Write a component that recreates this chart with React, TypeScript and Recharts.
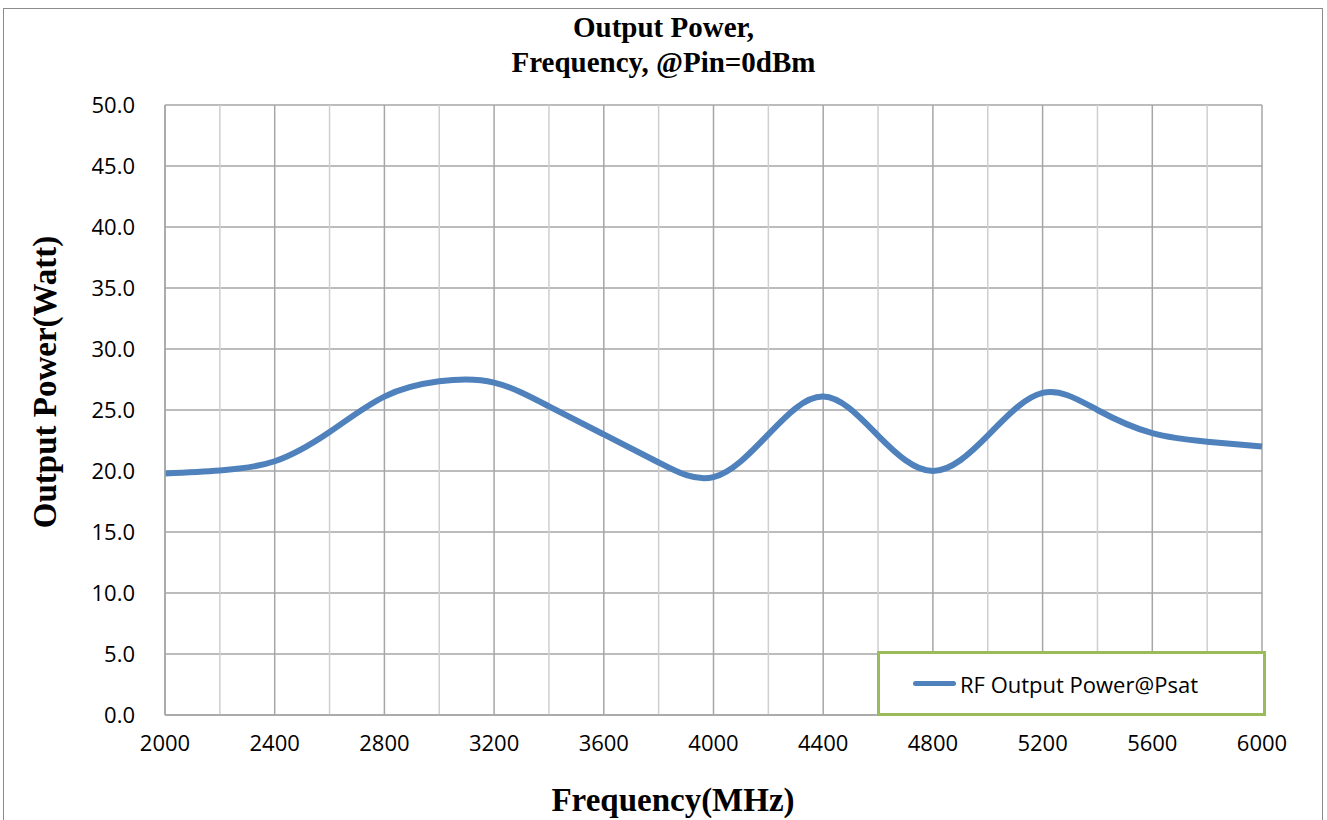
import React from 'react';
import { CartesianGrid, Line, LineChart, ReferenceLine, XAxis, YAxis } from 'recharts';

// frequency (MHz) and saturated output power (W), every 200 MHz
const freqs = [2000, 2200, 2400, 2600, 2800, 3000, 3200, 3400, 3600, 3800, 4000, 4200, 4400, 4600, 4800, 5000, 5200, 5400, 5600, 5800, 6000];
const powerW = [19.8, 20.05, 20.8, 23.2, 26.1, 27.35, 27.25, 25.3, 23.0, 20.7, 19.5, 23.0, 26.1, 22.9, 20.0, 22.9, 26.4, 25.0, 23.1, 22.4, 22.0];

const xTicks = [2000, 2400, 2800, 3200, 3600, 4000, 4400, 4800, 5200, 5600, 6000];
const xMinor = [2200, 2600, 3000, 3400, 3800, 4200, 4600, 5000, 5400, 5800];
const yTicks = [0, 5, 10, 15, 20, 25, 30, 35, 40, 45, 50];

const SERIES_NAME = 'RF Output Power@Psat';
const LINE_COLOR = '#4F81BD';

const data = freqs.map((f, i) => ({ freq: f, power: powerW[i] }));

const serif = '"Liberation Serif", "Times New Roman", serif';
const sans = '"Open Sans", "Noto Sans", sans-serif';

export default function App() {
    return (
        <div style={{ position: 'absolute', left: 0, top: 0, width: 1327, height: 820, background: '#fff', overflow: 'hidden' }}>
            <div
                style={{
                    position: 'absolute',
                    left: 3,
                    top: 8,
                    width: 1318,
                    height: 830,
                    border: '1px solid #8c8c8c',
                }}
            />
            <div
                style={{
                    position: 'absolute',
                    left: 0,
                    width: 1327,
                    top: 10,
                    textAlign: 'center',
                    fontFamily: serif,
                    fontWeight: 'bold',
                    fontSize: 29,
                    lineHeight: '35px',
                    color: '#000',
                }}
            >
                <div>Output Power,</div>
                <div>Frequency, @Pin=0dBm</div>
            </div>
            <LineChart
                width={1327}
                height={820}
                data={data}
                margin={{ top: 105, right: 65, bottom: 65, left: 105 }}
                style={{ position: 'absolute', left: 0, top: 0 }}
            >
                <CartesianGrid stroke="#a6a6a6" strokeWidth={1.5} horizontalValues={yTicks} verticalValues={xTicks} />
                {xMinor.map((v) => (
                    <ReferenceLine key={v} x={v} stroke="#cfcfcf" strokeWidth={1.5} />
                ))}
                <XAxis
                    dataKey="freq"
                    type="number"
                    domain={[2000, 6000]}
                    ticks={xTicks}
                    height={40}
                    axisLine={{ stroke: '#a6a6a6', strokeWidth: 1.5 }}
                    tickLine={false}
                    tickMargin={14}
                    tick={{ fontFamily: sans, fontSize: 22, fill: '#000' }}
                />
                <YAxis
                    type="number"
                    domain={[0, 50]}
                    ticks={yTicks}
                    width={60}
                    axisLine={{ stroke: '#a6a6a6', strokeWidth: 1.5 }}
                    tickLine={false}
                    tickMargin={24}
                    tickFormatter={(v: number) => v.toFixed(1)}
                    tick={{ fontFamily: sans, fontSize: 22, fill: '#000' }}
                />
                <Line
                    type="natural"
                    dataKey="power"
                    name={SERIES_NAME}
                    stroke={LINE_COLOR}
                    strokeWidth={6}
                    dot={false}
                    isAnimationActive={false}
                />
            </LineChart>
            {/* axis titles sit off-centre in the original, so place them by hand */}
            <div
                style={{
                    position: 'absolute',
                    left: 373,
                    width: 600,
                    top: 780,
                    textAlign: 'center',
                    fontFamily: serif,
                    fontWeight: 'bold',
                    fontSize: 33,
                    lineHeight: '40px',
                    color: '#000',
                }}
            >
                Frequency(MHz)
            </div>
            <div
                style={{
                    position: 'absolute',
                    left: 45 - 250,
                    top: 382 - 20,
                    width: 500,
                    height: 40,
                    lineHeight: '40px',
                    textAlign: 'center',
                    transform: 'rotate(-90deg)',
                    fontFamily: serif,
                    fontWeight: 'bold',
                    fontSize: 33,
                    color: '#000',
                }}
            >
                Output Power(Watt)
            </div>
            <div
                style={{
                    position: 'absolute',
                    left: 877,
                    top: 651,
                    width: 383,
                    height: 59,
                    border: '3px solid #9BBB59',
                    background: '#fff',
                    display: 'flex',
                    alignItems: 'center',
                }}
            >
                <div style={{ width: 43, height: 5, background: LINE_COLOR, borderRadius: 3, marginLeft: 33, marginRight: 4 }} />
                <span style={{ fontFamily: sans, fontSize: 22, color: '#000' }}>{SERIES_NAME}</span>
            </div>
        </div>
    );
}
